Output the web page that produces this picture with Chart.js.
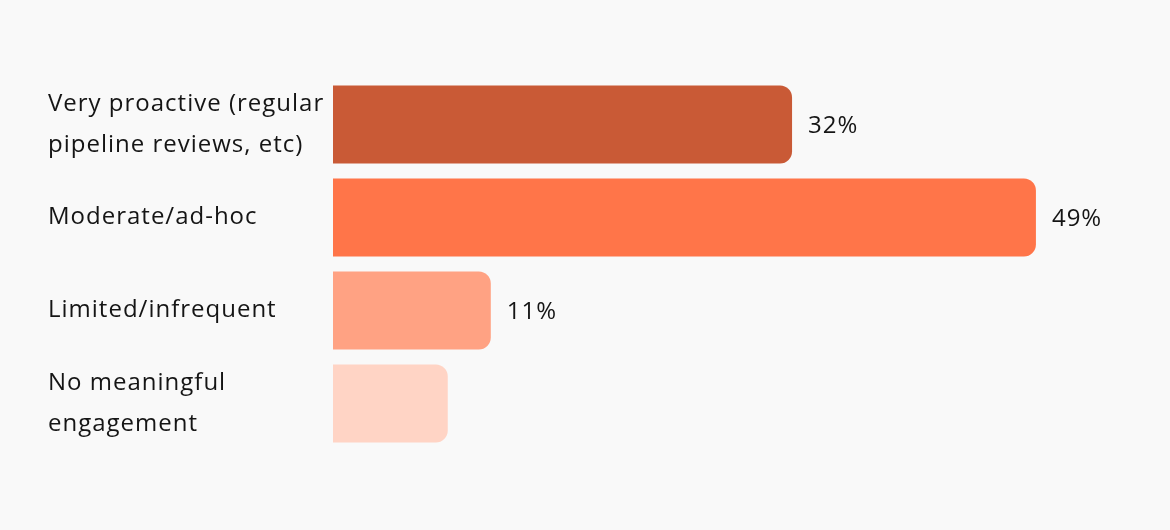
<!DOCTYPE html>
<html>
<head>
<meta charset="utf-8">
<script src="https://cdn.jsdelivr.net/npm/chart.js@4/dist/chart.umd.min.js"></script>
<style>
    html, body { margin: 0; padding: 0; background: #f9f9f9; }
    #wrap { width: 1170px; height: 530px; }
</style>
</head>
<body>
<div id="wrap"><canvas id="engagementChart" width="1170" height="530"></canvas></div>
<script>
// ============================================
// DATA
// ============================================
const categories = [
    ["Very proactive (regular", "pipeline reviews, etc)"],
    "Moderate/ad-hoc",
    "Limited/infrequent",
    ["No meaningful", "engagement"]
];
const shareValues = [32, 49, 11, 8];
const valueLabels = ["32%", "49%", "11%", ""];

const BAR_COLORS = ["#c95a36", "#ff7549", "#ffa283", "#ffd4c5"];
const FONT_FAMILY = "'Open Sans', sans-serif";
const TEXT_COLOR = "#151515";

// Slightly wider text spacing, closer to the original typeface
const letterSpacingPlugin = {
    id: "letterSpacing",
    beforeDraw(chart) {
        chart.ctx.letterSpacing = "1px";
    }
};

// Draws the value text just right of each bar
const valueLabelPlugin = {
    id: "valueLabels",
    afterDatasetsDraw(chart) {
        const ctx = chart.ctx;
        const meta = chart.getDatasetMeta(0);
        ctx.save();
        ctx.font = "24px " + FONT_FAMILY;
        ctx.fillStyle = TEXT_COLOR;
        ctx.textAlign = "left";
        ctx.textBaseline = "middle";
        meta.data.forEach((bar, i) => {
            if (!valueLabels[i]) return;
            ctx.fillText(valueLabels[i], bar.x + 16, bar.y + 2);
        });
        ctx.restore();
    }
};

new Chart(document.getElementById("engagementChart"), {
    type: "bar",
    data: {
        labels: categories,
        datasets: [{
            data: shareValues,
            backgroundColor: BAR_COLORS,
            borderRadius: 12,
            borderSkipped: "start",
            barPercentage: 1,
            categoryPercentage: 0.839
        }]
    },
    options: {
        indexAxis: "y",
        responsive: false,
        animation: false,
        layout: { padding: { left: 48, right: 48, top: 78, bottom: 80 } },
        plugins: {
            legend: { display: false },
            tooltip: { enabled: false }
        },
        scales: {
            x: {
                display: false,
                min: 0,
                max: 55
            },
            y: {
                grid: { display: false, drawTicks: false },
                border: { display: false },
                afterFit(scale) { scale.width = 285; },
                ticks: {
                    crossAlign: "far",
                    color: TEXT_COLOR,
                    padding: 0,
                    font: { family: FONT_FAMILY, size: 24, lineHeight: 1.7 }
                }
            }
        }
    },
    plugins: [letterSpacingPlugin, valueLabelPlugin]
});
</script>
</body>
</html>
